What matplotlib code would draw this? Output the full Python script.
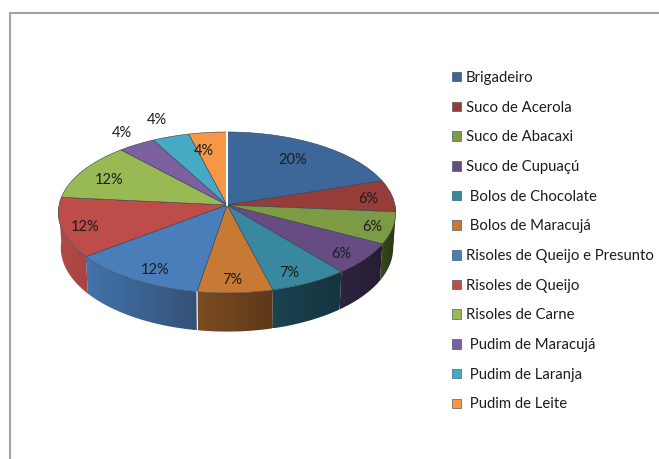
import matplotlib
matplotlib.use("Agg")
import matplotlib.pyplot as plt
from matplotlib.colors import LinearSegmentedColormap
from matplotlib.patches import Polygon
from matplotlib.transforms import Transform
import numpy as np

names = ["Brigadeiro", "Suco de Acerola", "Suco de Abacaxi", "Suco de Cupuaçú",
         " Bolos de Chocolate", " Bolos de Maracujá", "Risoles de Queijo e Presunto",
         "Risoles de Queijo", "Risoles de Carne", " Pudim de Maracujá",
         " Pudim de Laranja", " Pudim de Leite"]
values = [20, 6.4, 6.4, 6.4, 6.9, 6.6, 12, 12, 11.7, 3.9, 3.9, 4]

top_colors = ["#3d6798", "#963d3a", "#7d9a44", "#664c82", "#38889f", "#c87a35",
              "#4a7ebb", "#be4c49", "#99b955", "#7d60a0", "#46aac5", "#f79646"]
wall_left = ["#3d6798", "#963d3a", "#3a4720", "#2e2340", "#1b4350", "#7c4c22",
             "#4273ab", "#b24a47", "#99b955", "#7d60a0", "#46aac5", "#f79646"]
wall_right = ["#3d6798", "#963d3a", "#2c3618", "#261d32", "#14343f", "#5e3819",
              "#345178", "#a84441", "#99b955", "#7d60a0", "#46aac5", "#f79646"]

label_xy = [(293, 160), (368, 199), (372, 227), (341, 254), (289, 273), (232, 280),
            (155, 270), (85, 227), (109, 180), (122, 133), (157, 120), (204, 151)]

CX, CY = 227, 205
RX, RY = 168, 79.8
K = 0.093
DEPTH = 35


class Persp(Transform):
    input_dims = output_dims = 2

    def transform_non_affine(self, pts):
        pts = np.asarray(pts, dtype=float)
        w = 1 + K * pts[:, 1]
        return np.column_stack([CX + RX * pts[:, 0] / w, CY - RY * pts[:, 1] / w])


def project(theta):
    x, y = np.cos(theta), np.sin(theta)
    w = 1 + K * y
    sx = CX + RX * x / w
    sy = CY - RY * y / w
    return sx, sy, sx * 0.985 + CX * 0.015, sy + DEPTH / w


plt.rcParams["font.family"] = ["Lato", "DejaVu Sans"]
fig = plt.figure(figsize=(6.59, 4.59), dpi=100)
ax = fig.add_axes([0, 0, 1, 1])

wedges, _ = ax.pie(values, colors=top_colors, startangle=90, counterclock=False, frame=True,
                   wedgeprops=dict(edgecolor="#33404f", linewidth=0.4))
persp = Persp() + ax.transData
for w in wedges:
    w.set_transform(persp)
    w.set_zorder(2)

# side of the pie, only the front half shows
for w, c0, c1 in zip(wedges, wall_left, wall_right):
    th = np.radians(np.linspace(w.theta1, w.theta2, 40))
    th = th[np.sin(th) <= 0]
    if len(th) < 2:
        continue
    xt, yt, xb, yb = project(th)
    outline = np.column_stack([np.r_[xt, xb[::-1]], np.r_[yt, yb[::-1]]])
    clip = Polygon(outline, closed=True, facecolor="none", edgecolor="none", transform=ax.transData)
    ax.add_patch(clip)
    cmap = LinearSegmentedColormap.from_list("wall", [c0, c1])
    im = ax.imshow(np.linspace(0, 1, 64).reshape(1, -1), cmap=cmap, aspect="auto", zorder=1,
                   extent=(outline[:, 0].min(), outline[:, 0].max(), outline[:, 1].max(), outline[:, 1].min()))
    im.set_clip_path(clip)

# white gaps: first slice start and the seam on the wall
sx, sy, _, _ = project(np.radians(90.0))
ax.plot([CX, sx], [CY, sy], color="white", lw=1.4, zorder=3)
seam = wedges[5].theta1
sx, sy, bx, by = project(np.radians(seam))
ax.plot([sx, bx], [sy, by], color="#f2f2f2", lw=0.9, zorder=3)

for v, (x, y) in zip(values, label_xy):
    ax.text(x, y, f"{round(v)}%", ha="center", va="center", fontsize=10.5, color="#1c1c1c", zorder=4)

# outer frame, open on the right and at the bottom
ax.plot([9.5, 9.5, 659], [459, 12.5, 12.5], color="#a3a3a3", lw=1.5, zorder=5, solid_joinstyle="miter")

ax.set_xlim(0, 659)
ax.set_ylim(459, 0)
ax.set_aspect("auto")
ax.axis("off")

fig.legend(wedges, names, loc="upper left", bbox_to_anchor=(452 / 659, 1 - 71 / 459), frameon=False,
           fontsize=10.7, labelcolor="#1c1c1c", handlelength=0.6, handleheight=0.6, handletextpad=0.35,
           labelspacing=1.055, borderpad=0, borderaxespad=0)

fig.savefig("out.png", dpi=100)
